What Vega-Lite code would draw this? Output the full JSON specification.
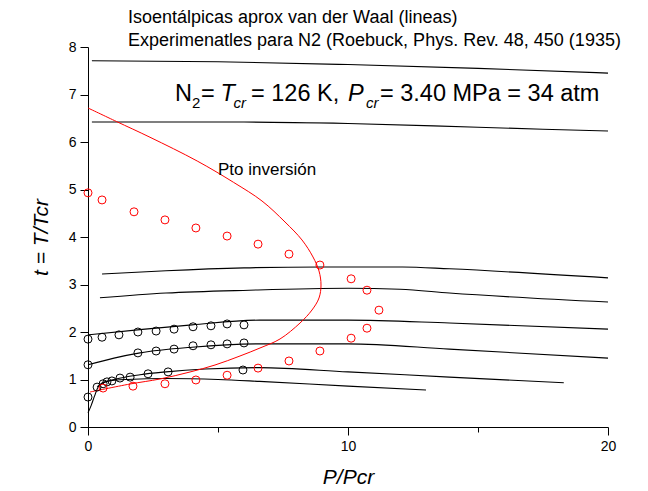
{
  "$schema": "https://vega.github.io/schema/vega-lite/v6.json",
  "width": 520,
  "height": 380,
  "autosize": "none",
  "padding": {"left": 88, "top": 47, "right": 40, "bottom": 64},
  "background": "white",
  "config": {"font": "Liberation Sans", "view": {"stroke": null}},
  "encoding": {
    "x": {
      "field": "P", "type": "quantitative",
      "scale": {"domain": [0, 20], "nice": false, "zero": false},
      "axis": {
        "title": "P/Pcr", "titleFont": "Liberation Sans", "titleFontStyle": "italic", "titleFontWeight": "normal",
        "titleFontSize": 21, "titleColor": "black", "titlePadding": 13,
        "values": [0, 5, 10, 15, 20], "format": "d",
        "labelExpr": "datum.value % 10 === 0 ? datum.label : ''",
        "tickSize": {"condition": {"test": "datum.value % 10 !== 0", "value": 5}, "value": 8},
        "grid": false, "domainColor": "black", "domainWidth": 1, "tickColor": "black", "tickWidth": 1,
        "labelColor": "black", "labelFontSize": 14, "labelPadding": 4, "labelFlush": false
      }
    },
    "y": {
      "field": "t", "type": "quantitative",
      "scale": {"domain": [0, 8], "nice": false, "zero": false},
      "axis": {
        "title": "t = T/Tcr", "titleFont": "Liberation Sans", "titleFontStyle": "italic", "titleFontWeight": "normal",
        "titleFontSize": 21, "titleColor": "black", "titlePadding": 17,
        "values": [0, 0.5, 1, 1.5, 2, 2.5, 3, 3.5, 4, 4.5, 5, 5.5, 6, 6.5, 7, 7.5, 8], "format": "d",
        "labelExpr": "datum.value % 1 === 0 ? datum.label : ''",
        "tickSize": {"condition": {"test": "datum.value % 1 !== 0", "value": 5}, "value": 8},
        "grid": false, "domainColor": "black", "domainWidth": 1, "tickColor": "black", "tickWidth": 1,
        "labelColor": "black", "labelFontSize": 14, "labelPadding": 4, "labelFlush": false
      }
    }
  },
  "layer": [
    {
      "data": {"values": [
        {"curve": "A", "o": 1, "P": 0.15, "t": 7.71}, {"curve": "A", "o": 2, "P": 5, "t": 7.69}, {"curve": "A", "o": 3, "P": 10, "t": 7.63}, {"curve": "A", "o": 4, "P": 15, "t": 7.55}, {"curve": "A", "o": 5, "P": 20, "t": 7.45},
        {"curve": "B", "o": 1, "P": 0.15, "t": 6.42}, {"curve": "B", "o": 2, "P": 6, "t": 6.42}, {"curve": "B", "o": 3, "P": 10, "t": 6.39}, {"curve": "B", "o": 4, "P": 15, "t": 6.31}, {"curve": "B", "o": 5, "P": 20, "t": 6.23},
        {"curve": "C", "o": 1, "P": 0.54, "t": 3.22}, {"curve": "C", "o": 2, "P": 3, "t": 3.29}, {"curve": "C", "o": 3, "P": 6, "t": 3.35}, {"curve": "C", "o": 4, "P": 9, "t": 3.37}, {"curve": "C", "o": 5, "P": 12.1, "t": 3.37}, {"curve": "C", "o": 6, "P": 13.9, "t": 3.33}, {"curve": "C", "o": 7, "P": 20, "t": 3.14},
        {"curve": "D", "o": 1, "P": 0.46, "t": 2.72}, {"curve": "D", "o": 2, "P": 3, "t": 2.82}, {"curve": "D", "o": 3, "P": 6.2, "t": 2.88}, {"curve": "D", "o": 4, "P": 10, "t": 2.92}, {"curve": "D", "o": 5, "P": 12, "t": 2.9}, {"curve": "D", "o": 6, "P": 13.9, "t": 2.82}, {"curve": "D", "o": 7, "P": 20, "t": 2.63},
        {"curve": "E", "o": 1, "P": 0, "t": 1.94}, {"curve": "E", "o": 2, "P": 2, "t": 2.05}, {"curve": "E", "o": 3, "P": 4, "t": 2.15}, {"curve": "E", "o": 4, "P": 6.6, "t": 2.25}, {"curve": "E", "o": 5, "P": 10, "t": 2.25}, {"curve": "E", "o": 6, "P": 13.9, "t": 2.19}, {"curve": "E", "o": 7, "P": 20, "t": 2.06},
        {"curve": "F", "o": 1, "P": 0, "t": 1.31}, {"curve": "F", "o": 2, "P": 1, "t": 1.45}, {"curve": "F", "o": 3, "P": 2, "t": 1.56}, {"curve": "F", "o": 4, "P": 4, "t": 1.68}, {"curve": "F", "o": 5, "P": 6.6, "t": 1.75}, {"curve": "F", "o": 6, "P": 10, "t": 1.75}, {"curve": "F", "o": 7, "P": 13.9, "t": 1.64}, {"curve": "F", "o": 8, "P": 20, "t": 1.45},
        {"curve": "G", "o": 1, "P": 0.35, "t": 0.85}, {"curve": "G", "o": 2, "P": 0.6, "t": 0.93}, {"curve": "G", "o": 3, "P": 1, "t": 1.0}, {"curve": "G", "o": 4, "P": 2, "t": 1.1}, {"curve": "G", "o": 5, "P": 3, "t": 1.16}, {"curve": "G", "o": 6, "P": 4.5, "t": 1.22}, {"curve": "G", "o": 7, "P": 6.6, "t": 1.25}, {"curve": "G", "o": 8, "P": 10, "t": 1.16}, {"curve": "G", "o": 9, "P": 13.9, "t": 1.05}, {"curve": "G", "o": 10, "P": 18.3, "t": 0.93},
        {"curve": "H", "o": 1, "P": 0, "t": 0.3}, {"curve": "H", "o": 2, "P": 0.12, "t": 0.45}, {"curve": "H", "o": 3, "P": 0.25, "t": 0.65}, {"curve": "H", "o": 4, "P": 0.4, "t": 0.85}, {"curve": "H", "o": 5, "P": 0.7, "t": 0.96}, {"curve": "H", "o": 6, "P": 1.5, "t": 1.0}, {"curve": "H", "o": 7, "P": 3, "t": 1.02}, {"curve": "H", "o": 8, "P": 5, "t": 1.0}, {"curve": "H", "o": 9, "P": 6.6, "t": 0.96}, {"curve": "H", "o": 10, "P": 10, "t": 0.86}, {"curve": "H", "o": 11, "P": 13, "t": 0.78}
      ]},
      "mark": {"type": "line", "color": "black", "strokeWidth": 1.1, "interpolate": "monotone"},
      "encoding": {"detail": {"field": "curve"}, "order": {"field": "o", "type": "quantitative"}}
    },
    {
      "data": {"values": [
        {"o": 1, "P": 0.077, "t": 0.737}, {"o": 2, "P": 1.615, "t": 0.905}, {"o": 3, "P": 2.769, "t": 1.011}, {"o": 4, "P": 3.923, "t": 1.158},
        {"o": 5, "P": 4.885, "t": 1.305}, {"o": 6, "P": 5.846, "t": 1.495}, {"o": 7, "P": 6.615, "t": 1.663}, {"o": 8, "P": 7.385, "t": 1.853},
        {"o": 9, "P": 8.154, "t": 2.189}, {"o": 10, "P": 8.615, "t": 2.463}, {"o": 11, "P": 8.885, "t": 2.716}, {"o": 12, "P": 8.962, "t": 2.989},
        {"o": 13, "P": 8.885, "t": 3.284}, {"o": 14, "P": 8.654, "t": 3.579}, {"o": 15, "P": 8.231, "t": 3.937}, {"o": 16, "P": 7.577, "t": 4.316},
        {"o": 17, "P": 6.692, "t": 4.758}, {"o": 18, "P": 5.6, "t": 5.15}, {"o": 19, "P": 4.2, "t": 5.6}, {"o": 20, "P": 2.385, "t": 6.1},
        {"o": 21, "P": 1.1, "t": 6.43}, {"o": 22, "P": 0, "t": 6.716}
      ]},
      "mark": {"type": "line", "color": "#ff0000", "strokeWidth": 1, "interpolate": "catmull-rom"},
      "encoding": {"order": {"field": "o", "type": "quantitative"}}
    },
    {
      "data": {"values": [
        {"set": "exp", "P": 0, "t": 1.85}, {"set": "exp", "P": 0.54, "t": 1.89}, {"set": "exp", "P": 1.19, "t": 1.94}, {"set": "exp", "P": 1.92, "t": 2.0}, {"set": "exp", "P": 2.62, "t": 2.02}, {"set": "exp", "P": 3.31, "t": 2.06}, {"set": "exp", "P": 4.04, "t": 2.11}, {"set": "exp", "P": 4.73, "t": 2.13}, {"set": "exp", "P": 5.35, "t": 2.17}, {"set": "exp", "P": 6.0, "t": 2.15},
        {"set": "exp", "P": 0, "t": 1.31}, {"set": "exp", "P": 1.92, "t": 1.56}, {"set": "exp", "P": 2.62, "t": 1.6}, {"set": "exp", "P": 3.31, "t": 1.64}, {"set": "exp", "P": 4.04, "t": 1.71}, {"set": "exp", "P": 4.73, "t": 1.73}, {"set": "exp", "P": 5.35, "t": 1.75}, {"set": "exp", "P": 6.0, "t": 1.77},
        {"set": "exp", "P": 0.35, "t": 0.84}, {"set": "exp", "P": 0.58, "t": 0.91}, {"set": "exp", "P": 0.73, "t": 0.95}, {"set": "exp", "P": 0.92, "t": 0.97}, {"set": "exp", "P": 1.23, "t": 1.03}, {"set": "exp", "P": 1.62, "t": 1.05}, {"set": "exp", "P": 2.31, "t": 1.12}, {"set": "exp", "P": 3.08, "t": 1.16}, {"set": "exp", "P": 5.96, "t": 1.2},
        {"set": "exp", "P": 0, "t": 0.63},
        {"set": "inv", "P": 0, "t": 4.93}, {"set": "inv", "P": 0.54, "t": 4.78}, {"set": "inv", "P": 1.77, "t": 4.53}, {"set": "inv", "P": 2.96, "t": 4.36}, {"set": "inv", "P": 4.15, "t": 4.19}, {"set": "inv", "P": 5.35, "t": 4.02}, {"set": "inv", "P": 6.54, "t": 3.85}, {"set": "inv", "P": 7.73, "t": 3.64}, {"set": "inv", "P": 8.92, "t": 3.41}, {"set": "inv", "P": 10.12, "t": 3.12}, {"set": "inv", "P": 10.73, "t": 2.88}, {"set": "inv", "P": 11.19, "t": 2.46},
        {"set": "inv", "P": 10.73, "t": 2.08}, {"set": "inv", "P": 10.12, "t": 1.87}, {"set": "inv", "P": 8.92, "t": 1.6}, {"set": "inv", "P": 7.73, "t": 1.39}, {"set": "inv", "P": 6.54, "t": 1.24}, {"set": "inv", "P": 5.35, "t": 1.09}, {"set": "inv", "P": 4.15, "t": 0.99}, {"set": "inv", "P": 2.96, "t": 0.91}, {"set": "inv", "P": 1.73, "t": 0.86}, {"set": "inv", "P": 0.58, "t": 0.82}
      ]},
      "mark": {"type": "point", "shape": "circle", "filled": false, "size": 64, "strokeWidth": 1, "opacity": 1},
      "encoding": {"color": {"field": "set", "type": "nominal", "scale": {"domain": ["exp", "inv"], "range": ["black", "#ff0000"]}, "legend": null}}
    },
    {
      "data": {"values": [
        {"P": 1.538, "t": 8.5, "label": "Isoentálpicas aprox van der Waal (lineas)"},
        {"P": 1.538, "t": 8.03, "label": "Experimenatles para N2 (Roebuck, Phys. Rev. 48, 450 (1935)"}
      ]},
      "mark": {"type": "text", "align": "left", "baseline": "alphabetic", "fontSize": 18, "color": "black"},
      "encoding": {"text": {"field": "label"}}
    },
    {
      "data": {"values": [
        {"P": 5.0, "t": 5.305, "label": "Pto inversión"}
      ]},
      "mark": {"type": "text", "align": "left", "baseline": "alphabetic", "fontSize": 17, "color": "black"},
      "encoding": {"text": {"field": "label"}}
    },
    {
      "data": {"values": [
        {"P": 3.346, "t": 6.863, "label": "N"},
        {"P": 4.35, "t": 6.863, "label": "="},
        {"P": 6.27, "t": 6.863, "label": "= 126 K,"},
        {"P": 11.23, "t": 6.863, "label": "= 3.40 MPa = 34 atm"}
      ]},
      "mark": {"type": "text", "align": "left", "baseline": "alphabetic", "fontSize": 23.5, "color": "black"},
      "encoding": {"text": {"field": "label"}}
    },
    {
      "data": {"values": [
        {"P": 5.1, "t": 6.863, "label": "T"},
        {"P": 10.0, "t": 6.863, "label": "P"}
      ]},
      "mark": {"type": "text", "align": "left", "baseline": "alphabetic", "fontSize": 23.5, "fontStyle": "italic", "color": "black"},
      "encoding": {"text": {"field": "label"}}
    },
    {
      "data": {"values": [
        {"P": 4.0, "t": 6.716, "label": "2"}
      ]},
      "mark": {"type": "text", "align": "left", "baseline": "alphabetic", "fontSize": 15, "color": "black"},
      "encoding": {"text": {"field": "label"}}
    },
    {
      "data": {"values": [
        {"P": 5.6, "t": 6.716, "label": "cr"},
        {"P": 10.69, "t": 6.716, "label": "cr"}
      ]},
      "mark": {"type": "text", "align": "left", "baseline": "alphabetic", "fontSize": 15, "fontStyle": "italic", "color": "black"},
      "encoding": {"text": {"field": "label"}}
    }
  ]
}
